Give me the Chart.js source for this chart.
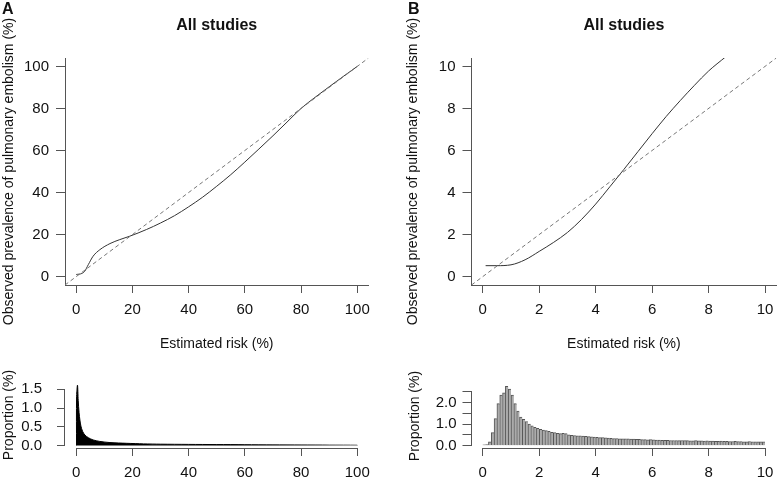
<!DOCTYPE html>
<html>
<head>
<meta charset="utf-8">
<script src="https://cdn.jsdelivr.net/npm/chart.js@4.4.1/dist/chart.umd.min.js"></script>
<style>
  body { margin: 0; background: #fff; }
  #wrap { position: relative; width: 778px; height: 481px; }
  canvas { position: absolute; }
  .panel { position: absolute; font: bold 16px/1 "Liberation Sans", Arial, sans-serif; color: #111; }
</style>
</head>
<body>
<div id="wrap">
  <canvas id="calA" width="389" height="360" style="left:0px;top:0px"></canvas>
  <canvas id="histA" width="389" height="121" style="left:0px;top:360px"></canvas>
  <canvas id="calB" width="389" height="360" style="left:389px;top:0px"></canvas>
  <canvas id="histB" width="389" height="121" style="left:389px;top:360px"></canvas>
  <div class="panel" style="left:2px;top:1px">A</div>
  <div class="panel" style="left:408px;top:1px">B</div>
</div>
<script>
// ---- values ----
// Panel A: calibration curve, estimated risk (%) vs observed prevalence (%)
const calA_risk = [0, 2, 3, 4.3, 6, 8.4, 12, 15.5, 19, 25, 30, 35, 40, 45, 50, 55, 60, 65, 70, 75, 80, 85, 90, 95, 100];
const calA_obs  = [1, 1.5, 2.5, 5.7, 9.7, 12.8, 15.7, 17.6, 19.2, 22.4, 25.5, 29, 33.2, 37.8, 43, 48.5, 54.5, 60.7, 67, 73.5, 80, 85.3, 90.3, 95.2, 100];

// Panel B: same curve zoomed on 0-10 %
const calB_risk = [0.1, 0.5, 1.0, 1.5, 2.0, 2.5, 3.0, 3.5, 4.0, 4.5, 5.0, 5.5, 6.0, 6.5, 7.0, 7.5, 8.0, 8.6];
const calB_obs  = [0.52, 0.52, 0.56, 0.8, 1.2, 1.62, 2.1, 2.72, 3.45, 4.27, 5.1, 5.95, 6.8, 7.62, 8.38, 9.1, 9.78, 10.45];

// reference diagonal (perfect calibration), spans the full plot range
const diagA = [-4, 104];
const diagB = [-0.4, 10.4];

// Panel A histogram outline (very narrow bins, drawn as a filled profile)
const histA_risk = [0.1, 0.12, 0.45, 0.7, 1.0, 1.3, 1.66, 2.25, 3.1, 4.3, 6, 8.4, 12, 18, 24, 30, 40, 50, 60, 70, 80, 90, 100, 100];
const histA_prop = [0, 1.3, 1.61, 1.2, 0.88, 0.68, 0.52, 0.38, 0.28, 0.21, 0.15, 0.11, 0.08, 0.06, 0.045, 0.037, 0.031, 0.027, 0.025, 0.022, 0.02, 0.018, 0.015, 0];

// Panel B histogram, 0.1 % bins from 0 to 10
const histB_binWidth = 0.1;
const histB_prop = [
  0.04, 0.05, 0.18, 0.6, 1.25, 1.95, 2.35, 2.45, 2.75, 2.62,
  2.35, 1.95, 1.6, 1.33, 1.22, 1.12, 1.0, 0.92, 0.85, 0.8,
  0.76, 0.72, 0.7, 0.66, 0.62, 0.6, 0.57, 0.56, 0.57, 0.56,
  0.5, 0.48, 0.47, 0.46, 0.46, 0.44, 0.43, 0.42, 0.41, 0.4,
  0.38, 0.37, 0.37, 0.36, 0.35, 0.34, 0.33, 0.33, 0.32, 0.31,
  0.32, 0.31, 0.3, 0.3, 0.29, 0.29, 0.28, 0.28, 0.27, 0.28,
  0.27, 0.26, 0.26, 0.25, 0.25, 0.25, 0.24, 0.24, 0.24, 0.23,
  0.24, 0.23, 0.23, 0.22, 0.22, 0.23, 0.22, 0.22, 0.21, 0.22,
  0.21, 0.21, 0.2, 0.2, 0.21, 0.2, 0.2, 0.19, 0.19, 0.2,
  0.19, 0.19, 0.18, 0.18, 0.19, 0.18, 0.18, 0.18, 0.18, 0.18
];

// tick positions
const ticksA = [0, 20, 40, 60, 80, 100];
const ticksB = [0, 2, 4, 6, 8, 10];
const histATicksY = [0, 0.5, 1, 1.5];
const histBTicksY = [0, 0.5, 1, 1.5, 2, 2.5];
const histBLabelled = [0, 1, 2];

// ---- styling ----
const FONT = '"Liberation Sans", Arial, sans-serif';
const INK = '#111';
const AXIS = '#555';
const font14 = { family: FONT, size: 14 };
const font15 = { family: FONT, size: 15 };

const zip = (xs, ys) => xs.map((x, i) => ({ x: x, y: ys[i] }));
const fixedTicks = values => scale => { scale.ticks = values.map(v => ({ value: v })); };

// R style axis line that only spans the first..last tick (used for histograms)
const tickSpanLines = {
  id: 'tickSpanLines',
  afterDraw(chart) {
    const { ctx, chartArea, scales: { x, y } } = chart;
    const xt = x.ticks, yt = y.ticks;
    ctx.save();
    ctx.strokeStyle = AXIS;
    ctx.lineWidth = 1;
    ctx.beginPath();
    const yb = Math.round(chartArea.bottom) + 0.5;
    ctx.moveTo(x.getPixelForValue(xt[0].value), yb);
    ctx.lineTo(x.getPixelForValue(xt[xt.length - 1].value), yb);
    const xl = Math.round(chartArea.left) - 0.5;
    ctx.moveTo(xl, y.getPixelForValue(yt[0].value));
    ctx.lineTo(xl, y.getPixelForValue(yt[yt.length - 1].value));
    ctx.stroke();
    ctx.restore();
  }
};

function xScale(o) {
  return {
    type: 'linear', min: o.range[0], max: o.range[1], bounds: 'data',
    offset: false,
    afterBuildTicks: fixedTicks(o.ticks),
    afterFit: s => { s.height = o.height; s.paddingLeft = 0; s.paddingRight = 0; },
    grid: { drawOnChartArea: false, offset: false, tickLength: 8, tickColor: AXIS },
    border: { display: o.border, color: AXIS },
    ticks: { color: INK, font: font15, padding: 8, maxRotation: 0, autoSkip: false, callback: v => String(v) },
    title: o.title
      ? { display: true, text: o.title, color: INK, font: font14, padding: { top: 0, bottom: 7.6 } }
      : { display: false }
  };
}

function yScale(o) {
  return {
    type: 'linear', min: o.range[0], max: o.range[1], bounds: 'data',
    afterBuildTicks: fixedTicks(o.ticks),
    afterFit: s => { s.width = o.width; s.paddingTop = 0; s.paddingBottom = 0; },
    grid: { drawOnChartArea: false, tickLength: o.tickLength, tickColor: AXIS },
    border: { display: o.border, color: AXIS },
    ticks: { color: INK, font: font15, padding: o.labelPad, autoSkip: false, callback: o.format },
    title: { display: true, text: o.title, color: INK, font: font14, padding: { top: o.titlePad, bottom: 0 } }
  };
}

function baseOptions(padding) {
  return {
    responsive: false,
    animation: false,
    devicePixelRatio: 1,
    events: [],
    layout: { padding: padding },
    plugins: { legend: { display: false }, tooltip: { enabled: false } }
  };
}

const studiesTitle = {
  display: true, text: 'All studies', fullSize: false, color: INK,
  font: { family: FONT, size: 16, weight: 'bold' },
  padding: { top: 16.4, bottom: 22.4 }
};

function calibrationChart(id, risk, obs, diag, range, ticks, yWidth, rightPad, titlePad) {
  const opts = baseOptions({ left: 0, top: 0, right: rightPad, bottom: 0 });
  opts.plugins.title = studiesTitle;
  opts.scales = {
    x: xScale({ range: range, ticks: ticks, height: 75, border: true, title: 'Estimated risk (%)' }),
    y: yScale({ range: range, ticks: ticks, width: yWidth, tickLength: 9, labelPad: 7, border: true,
                titlePad: titlePad, format: v => String(v),
                title: 'Observed prevalence of pulmonary embolism (%)' })
  };
  return new Chart(document.getElementById(id), {
    type: 'line',
    data: {
      datasets: [
        { data: zip(diag, diag), borderColor: '#777', borderWidth: 1, borderDash: [4, 3], pointRadius: 0 },
        { data: zip(risk, obs), borderColor: '#333', borderWidth: 1, pointRadius: 0, cubicInterpolationMode: 'monotone' }
      ]
    },
    options: opts
  });
}

calibrationChart('calA', calA_risk, calA_obs, diagA, [-4, 104], ticksA, 65, 20.5, 0.6);
calibrationChart('calB', calB_risk, calB_obs, diagB, [-0.4, 10.4], ticksB, 82.5, 1.7, 15.9);

// Panel A histogram: black profile fading to grey where bins get too thin to see
function fadeFill(c) {
  const chart = c.chart;
  if (!chart.chartArea) return '#000';
  const x = chart.scales.x;
  const g = chart.ctx.createLinearGradient(x.getPixelForValue(55), 0, x.getPixelForValue(100), 0);
  g.addColorStop(0, '#000');
  g.addColorStop(1, '#8a8a8a');
  return g;
}

const histAOpts = baseOptions({ left: 0, top: 22, right: 20.5, bottom: 0 });
histAOpts.scales = {
  x: xScale({ range: [-4, 104], ticks: ticksA, height: 33, border: false }),
  y: yScale({ range: [-0.065, 1.695], ticks: histATicksY, width: 65, tickLength: 8, labelPad: 15, border: false,
              titlePad: 0.8, format: v => v.toFixed(1), title: 'Proportion (%)' })
};
new Chart(document.getElementById('histA'), {
  type: 'line',
  data: {
    datasets: [{
      data: zip(histA_risk, histA_prop),
      borderColor: fadeFill, backgroundColor: fadeFill, borderWidth: 1,
      pointRadius: 0, fill: 'origin', tension: 0.3
    }]
  },
  options: histAOpts,
  plugins: [tickSpanLines]
});

// Panel B histogram: real bars, one per 0.1 % bin
const histBOpts = baseOptions({ left: 0, top: 24, right: 1.7, bottom: 0 });
histBOpts.scales = {
  x: xScale({ range: [-0.4, 10.4], ticks: ticksB, height: 33, border: false }),
  y: yScale({ range: [-0.11, 2.86], ticks: histBTicksY, width: 82.5, tickLength: 9, labelPad: 6, border: false,
              titlePad: 17.6, format: v => histBLabelled.includes(v) ? v.toFixed(1) : '',
              title: 'Proportion (%)' })
};
new Chart(document.getElementById('histB'), {
  type: 'bar',
  data: {
    datasets: [{
      data: histB_prop.map((p, i) => ({ x: (i + 0.5) * histB_binWidth, y: p })),
      backgroundColor: '#ababab', borderColor: '#555',
      borderWidth: { top: 1, left: 1, right: 0, bottom: 0 },
      barPercentage: 1, categoryPercentage: 1
    }]
  },
  options: histBOpts,
  plugins: [tickSpanLines]
});
</script>
</body>
</html>
